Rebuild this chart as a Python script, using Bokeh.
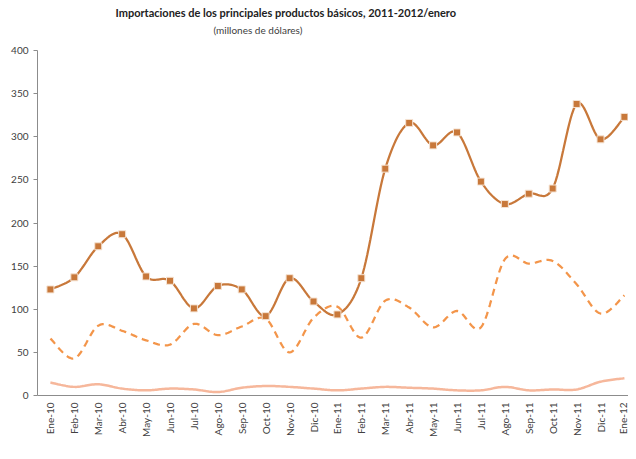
import math
from bokeh.plotting import figure
from bokeh.models import (Range1d, FixedTicker, Title, Legend, LegendItem)
from bokeh.embed import file_html
from bokeh.resources import INLINE

meses = ["Ene-10", "Feb-10", "Mar-10", "Abr-10", "May-10", "Jun-10", "Jul-10", "Ago-10",
         "Sep-10", "Oct-10", "Nov-10", "Dic-10", "Ene-11", "Feb-11", "Mar-11", "Abr-11",
         "May-11", "Jun-11", "Jul-11", "Ago-11", "Sep-11", "Oct-11", "Nov-11", "Dic-11", "Ene-12"]
maiz = [123, 137, 173, 187, 138, 133, 101, 127, 123, 92, 136, 109, 94, 136, 263, 316,
        290, 305, 248, 222, 234, 240, 338, 297, 323]
trigo = [66, 43, 81, 75, 64, 59, 83, 70, 80, 89, 50, 90, 103, 67, 110, 102,
         79, 98, 79, 158, 153, 156, 129, 95, 116]
frijol = [15, 10, 13, 8, 6, 8, 7, 4, 9, 11, 10, 8, 6, 8, 10, 9,
          8, 6, 6, 10, 6, 7, 7, 16, 20]
y_ticks = [0, 50, 100, 150, 200, 250, 300, 350, 400]

FONT = "Lato"
C_MAIZ = "#C8783A"
C_TRIGO = "#F3954A"
C_FRIJOL = "#F6B79B"


def smooth(ys, steps=16):
    """Excel-style smoothed curve (cubic Bezier, Catmull-Rom control points) through the data points."""
    n = len(ys)
    pts = list(zip(range(n), ys))
    ox, oy = [], []
    for i in range(n - 1):
        p0 = pts[i - 1] if i > 0 else pts[i]
        p1 = pts[i]
        p2 = pts[i + 1]
        p3 = pts[i + 2] if i + 2 < n else pts[i + 1]
        c1 = (p1[0] + (p2[0] - p0[0]) / 6.0, p1[1] + (p2[1] - p0[1]) / 6.0)
        c2 = (p2[0] - (p3[0] - p1[0]) / 6.0, p2[1] - (p3[1] - p1[1]) / 6.0)
        for k in range(steps):
            t = k / steps
            a = (1 - t) ** 3
            b = 3 * (1 - t) ** 2 * t
            c = 3 * (1 - t) * t ** 2
            d = t ** 3
            ox.append(a * p1[0] + b * c1[0] + c * c2[0] + d * p2[0])
            oy.append(a * p1[1] + b * c1[1] + c * c2[1] + d * p2[1])
    ox.append(pts[-1][0])
    oy.append(pts[-1][1])
    return ox, oy


p = figure(frame_width=591, frame_height=345, output_backend="svg", toolbar_location=None,
           x_range=Range1d(-0.54, 24.17), y_range=Range1d(0, 400),
           min_border_left=37, min_border_right=0, min_border_top=50, min_border_bottom=0)
p.outline_line_color = None
p.xgrid.grid_line_color = None
p.ygrid.grid_line_color = None
p.background_fill_color = "white"
p.border_fill_color = "white"

# titles (first added sits closest to the frame; the first one is an empty spacer)
spacer = Title(text=" ", text_font=FONT, text_font_size="1px", standoff=9)
sub = Title(text="(millones de dólares)", align="left", offset=176, text_font=FONT,
            text_font_size="10px", text_font_style="normal", text_color="#404040", standoff=6)
main = Title(text="Importaciones de los principales productos básicos, 2011-2012/enero",
             align="left", offset=78, text_font=FONT, text_font_size="11px",
             text_font_style="bold", text_color="#222222", standoff=0)
p.add_layout(spacer, "above")
p.add_layout(sub, "above")
p.add_layout(main, "above")

# axes
xa = p.xaxis[0]
xa.ticker = FixedTicker(ticks=list(range(len(meses))))
xa.major_label_overrides = {i: m for i, m in enumerate(meses)}
xa.major_label_orientation = math.pi / 2
xa.major_tick_out = 0
xa.major_tick_in = 0
xa.minor_tick_line_color = None
xa.axis_line_color = "#8C8C8C"
xa.major_label_text_font = FONT
xa.major_label_text_font_size = "10px"
xa.major_label_text_color = "#404040"
xa.major_label_standoff = 7
xa.axis_label_standoff = 0

ya = p.yaxis[0]
ya.ticker = FixedTicker(ticks=y_ticks)
ya.major_tick_out = 4
ya.major_tick_in = 0
ya.minor_tick_line_color = None
ya.axis_line_color = "#8C8C8C"
ya.major_tick_line_color = "#8C8C8C"
ya.major_label_text_font = FONT
ya.major_label_text_font_size = "10px"
ya.major_label_text_color = "#404040"
ya.major_label_standoff = 5

idx = list(range(len(meses)))

fx, fy = smooth(frijol)
r_frijol = p.line(fx, fy, line_color=C_FRIJOL, line_width=2.5)

tx, ty = smooth(trigo)
r_trigo = p.line(tx, ty, line_color=C_TRIGO, line_width=2.25, line_dash="7 5")

mx, my = smooth(maiz)
r_maiz = p.line(mx, my, line_color=C_MAIZ, line_width=2.25)
r_maiz_pts = p.scatter(idx, maiz, marker="square", size=7, fill_color=C_MAIZ,
                       line_color="#F5E3D3", line_width=1)

legend = Legend(items=[
    LegendItem(label="Maíz", renderers=[r_maiz, r_maiz_pts]),
    LegendItem(label="Trigo", renderers=[r_trigo]),
    LegendItem(label="Frijol", renderers=[r_frijol]),
], orientation="horizontal", location="top_center")
legend.label_text_font = FONT
legend.label_text_font_size = "10px"
legend.label_text_color = "#404040"
legend.border_line_color = None
legend.background_fill_alpha = 0
legend.glyph_width = 26
legend.glyph_height = 10
legend.spacing = 9
legend.padding = 0
legend.margin = 0
legend.label_standoff = 3
legend.label_height = 10
p.add_layout(legend, "below")

open("out.html", "w").write(file_html(p, INLINE))
